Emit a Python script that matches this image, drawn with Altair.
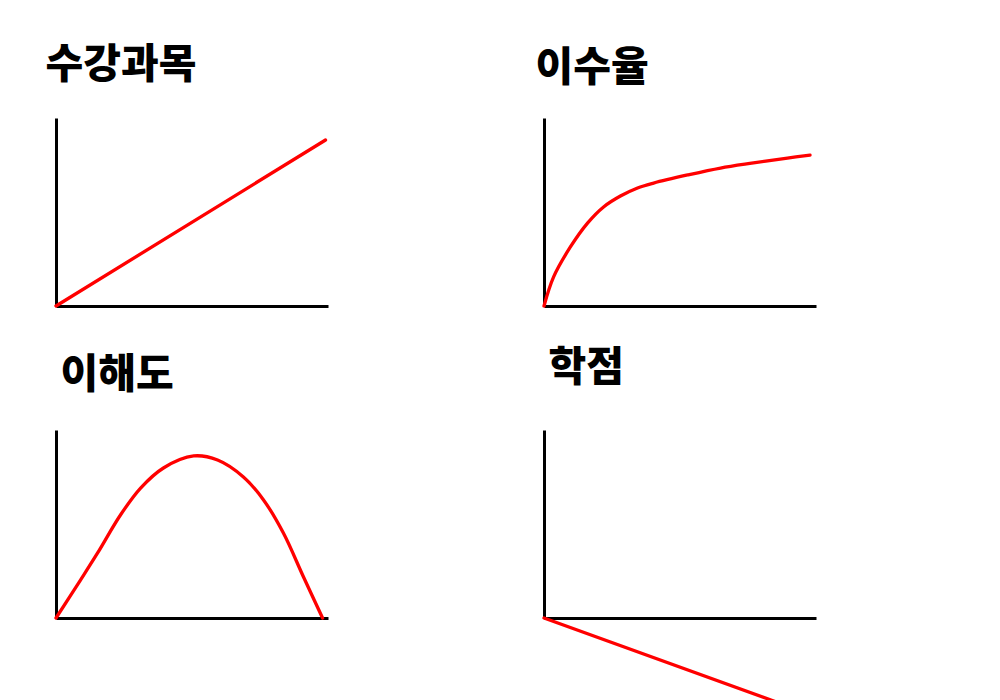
import altair as alt
import pandas as pd

# ---- data (in axis units 0..100) ----
titles = ["수강과목", "이수율", "이해도", "학점"]

p1_x = [0, 99.1]
p1_y = [0, 88.3]

p2_x = [0, 3.5, 9.7, 16.0, 21.9, 28.1, 34.4, 40.3, 52.8, 64.9, 77.0, 89.5, 97.8]
p2_y = [0, 15.4, 31.4, 44.1, 52.7, 58.5, 62.8, 65.4, 69.7, 73.4, 76.1, 78.7, 80.3]

p3_x = [0, 9.0, 15.3, 23.7, 31.1, 39.5, 50.6, 59.4, 68.9, 76.3, 83.6, 91.0, 98.0]
p3_y = [0, 20.2, 34.6, 54.8, 69.1, 79.8, 86.2, 84.0, 75.0, 62.8, 45.2, 21.8, 0]

p4_x = [0, 95.0]
p4_y = [0, -49.7]

title_dx = [-10.5, -8.5, 4.5, 4.5]
title_off = [-1, -3.5, 1.5, 8.5]

W, H = 272, 188
FONT = "Noto Sans CJK KR"

axis_x = alt.Axis(domain=True, domainColor="#000000", domainWidth=3, ticks=False,
                  labels=False, grid=False, title=None)
axis_y = alt.Axis(domain=True, domainColor="#000000", domainWidth=3, ticks=False,
                  labels=False, grid=False, title=None)


def panel(xs, ys, title, dx, off):
    df = pd.DataFrame({"x": xs, "y": ys, "o": list(range(len(xs)))})
    return alt.Chart(df).mark_line(
        color="#ff0000", strokeWidth=3.3, strokeCap="round", interpolate="catmull-rom", clip=False
    ).encode(
        x=alt.X("x:Q", scale=alt.Scale(domain=[0, 100], nice=False, zero=False), axis=axis_x),
        y=alt.Y("y:Q", scale=alt.Scale(domain=[0, 100], nice=False, zero=False), axis=axis_y),
        order="o:O",
    ).properties(
        width=W, height=H,
        title=alt.TitleParams(text=title, anchor="start", frame="group", dx=dx, offset=off,
                              baseline="alphabetic", font=FONT, fontSize=41,
                              fontWeight=900, color="#000000"),
    )


charts = [
    panel(p1_x, p1_y, titles[0], title_dx[0], title_off[0]),
    panel(p2_x, p2_y, titles[1], title_dx[1], title_off[1]),
    panel(p3_x, p3_y, titles[2], title_dx[2], title_off[2]),
    panel(p4_x, p4_y, titles[3], title_dx[3], title_off[3]),
]

chart = alt.concat(*charts, columns=2, spacing={"row": 124, "column": 216},
                   bounds="flush").properties(
    padding={"left": 37, "top": 37, "right": 5, "bottom": 0},
    background="#ffffff",
).configure_view(stroke=None)

chart.save("out.html", embed_options={"renderer": "svg", "actions": False})
